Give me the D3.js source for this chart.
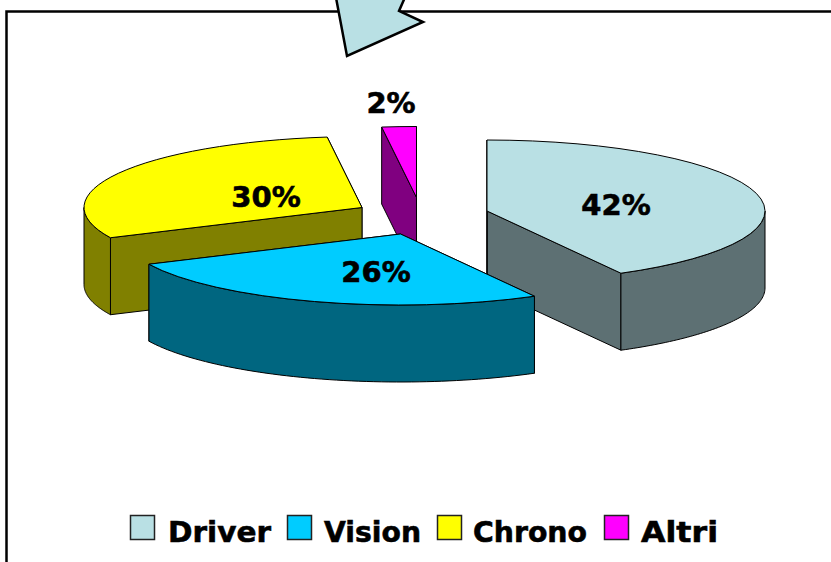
<!DOCTYPE html>
<html><head><meta charset="utf-8">
<script src="https://cdn.jsdelivr.net/npm/d3@7/dist/d3.min.js"></script>
<style>html,body{margin:0;padding:0;background:#fff;overflow:hidden}svg{display:block}text{font-family:"DejaVu Sans",sans-serif;font-weight:700;fill:#000;stroke:#000;stroke-width:.6px}</style>
</head><body><script>
const categories = ["Driver","Vision","Chrono","Altri"];
const values = [42,26,30,2];
const labels = ["42%","26%","30%","2%"];
const topColors = ["#b9e0e4","#00ccff","#ffff00","#ff00ff"];
const sideColors = ["#5d7073","#006680","#808000","#800080"];

// layout
const W=831,H=562, rx=278, ry=71, depth=77;
const apexes=[[487,211],[400.5,234],[362,207.5],[416.5,197.5]];
const labelPos=[[616,205],[376,272],[266,197],[391,103]];
const legendBoxX=[130,287,437,604], legendTextX=[168,324,473,641], legendTextW=[103,97,114,77];
const paintOrder=[3,2,0,1];

const svg=d3.select("body").append("svg").attr("width",W).attr("height",H);

// frame + callout
const line=d3.line();
svg.append("path").attr("d",line([[6.5,H+5],[6.5,11.5],[W+5,11.5]])).attr("fill","none").attr("stroke","#000").attr("stroke-width",2.5);
svg.append("path").attr("d",line([[335.5,-5],[347,56],[423,22],[399,11],[406,-5]])).attr("fill","#b9e0e4").attr("stroke","#000").attr("stroke-width",2.5).attr("stroke-linejoin","miter");

const arcs=d3.pie().sort(null).value(d=>d)(values);
const arcTop=d3.arc().innerRadius(0).outerRadius(rx);
const pt=(c,a,dy=0)=>[c[0]+rx*Math.sin(a),c[1]-ry*Math.cos(a)+dy];
const sy=ry/rx;

paintOrder.forEach(i=>{
  const a=arcs[i], c=apexes[i], g=svg.append("g");
  const side=d=>g.append("path").attr("d",d).attr("fill",sideColors[i]).attr("stroke","#000").attr("stroke-width",1).attr("stroke-linejoin","round");
  [a.endAngle,a.startAngle].forEach(ang=>{
    const p=pt(c,ang);
    side(line([[c[0],c[1]],p,[p[0],p[1]+depth],[c[0],c[1]+depth]])+"Z");
  });
  const a0=Math.max(a.startAngle,Math.PI/2), a1=Math.min(a.endAngle,Math.PI*1.5);
  if(a1>a0){
    const n=60, angles=d3.range(n+1).map(k=>a0+(a1-a0)*k/n);
    const pts=angles.map(t=>pt(c,t)).concat(angles.slice().reverse().map(t=>pt(c,t,depth)));
    side(line(pts)+"Z");
  }
  g.append("path").attr("d",arcTop(a))
    .attr("transform",`translate(${c[0]},${c[1]}) scale(1,${sy})`)
    .attr("fill",topColors[i]).attr("stroke","#000").attr("stroke-width",1)
    .attr("vector-effect","non-scaling-stroke").attr("stroke-linejoin","round");
});

labels.forEach((t,i)=>{
  svg.append("text").attr("x",labelPos[i][0]).attr("y",labelPos[i][1]).attr("text-anchor","middle")
    .attr("dominant-baseline","central").attr("font-size",29).text(t);
});
categories.forEach((t,i)=>{
  svg.append("rect").attr("x",legendBoxX[i]+.5).attr("y",515.5).attr("width",24).attr("height",24)
    .attr("fill",topColors[i]).attr("stroke","#222").attr("stroke-width",1.5);
  svg.append("text").attr("x",legendTextX[i]).attr("y",542).attr("font-size",29)
    .attr("textLength",legendTextW[i]).attr("lengthAdjust","spacingAndGlyphs").text(t);
});
</script></body></html>
